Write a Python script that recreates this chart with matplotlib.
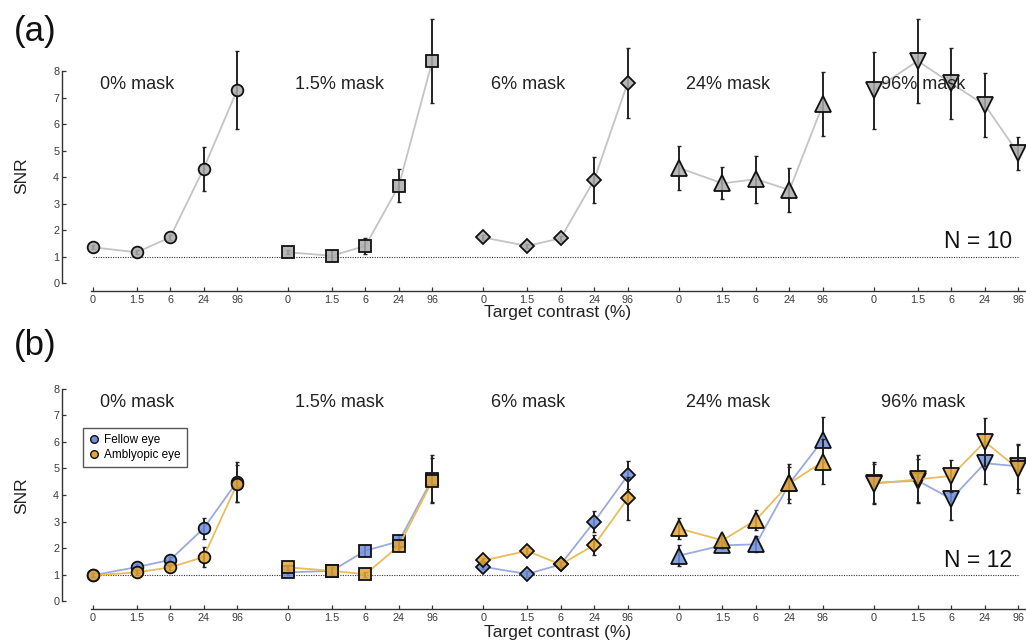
import numpy as np
import matplotlib
matplotlib.use("Agg")
import matplotlib.pyplot as plt
from matplotlib.lines import Line2D
from matplotlib.colors import to_rgba

plt.rcParams['font.family'] = ['Liberation Sans', 'DejaVu Sans']

# ---- data ----
contrasts = ['0', '1.5', '6', '24', '96']
masks = ['0% mask', '1.5% mask', '6% mask', '24% mask', '96% mask']
markers = ['o', 's', 'D', '^', 'v']
msizes = [8.4, 8.0, 7.0, 11.3, 11.3]

# (a) N = 10, one group of observers
snr_a = [[1.35, 1.16, 1.72, 4.31, 7.28],
         [1.16, 1.03, 1.40, 3.67, 8.39],
         [1.72, 1.40, 1.69, 3.89, 7.56],
         [4.35, 3.76, 3.92, 3.51, 6.75],
         [7.28, 8.38, 7.53, 6.72, 4.89]]
err_a = [[0.08, 0.08, 0.10, 0.82, 1.47],
         [0.08, 0.20, 0.30, 0.62, 1.58],
         [0.08, 0.08, 0.10, 0.88, 1.32],
         [0.83, 0.60, 0.89, 0.84, 1.20],
         [1.45, 1.57, 1.33, 1.20, 0.63]]

# (b) N = 12, fellow vs amblyopic eye
snr_fellow = [[0.97, 1.28, 1.55, 2.74, 4.50],
              [1.08, 1.14, 1.90, 2.25, 4.62],
              [1.29, 1.02, 1.38, 2.99, 4.74],
              [1.71, 2.10, 2.14, 4.44, 6.08],
              [4.46, 4.54, 3.85, 5.20, 5.08]]
err_fellow = [[0.08, 0.10, 0.12, 0.40, 0.75],
              [0.10, 0.12, 0.20, 0.25, 0.90],
              [0.10, 0.10, 0.10, 0.40, 0.53],
              [0.40, 0.15, 0.30, 0.60, 0.85],
              [0.77, 0.80, 0.80, 0.80, 0.85]]
snr_amb = [[0.97, 1.08, 1.27, 1.66, 4.42],
           [1.27, 1.14, 1.01, 2.08, 4.54],
           [1.53, 1.89, 1.38, 2.11, 3.87],
           [2.74, 2.29, 3.06, 4.44, 5.26],
           [4.42, 4.59, 4.72, 6.01, 4.98]]
err_amb = [[0.08, 0.10, 0.10, 0.36, 0.70],
           [0.10, 0.15, 0.10, 0.20, 0.85],
           [0.10, 0.10, 0.10, 0.37, 0.80],
           [0.40, 0.20, 0.37, 0.73, 0.85],
           [0.75, 0.90, 0.60, 0.90, 0.90]]

# x layout: log-spaced contrasts, five groups side by side
inner = np.array([0, 1.31, 2.31, 3.31, 4.31])
group_step = 5.83

gray_fill = '#ababab'
gray_line = '#c4c4c4'
blue = '#7090dc'
blue_line = '#9aaade'
orange = '#e3a63a'
orange_line = '#e9bd5a'

W, H = 1026, 643
fig = plt.figure(figsize=(W / 100, H / 100), dpi=100)


def px_axes(left, right, top, bottom):
    return fig.add_axes([left / W, 1 - bottom / H, (right - left) / W, (bottom - top) / H])


def style_axes(ax, ylim):
    ax.set_xlim(-0.916, 28.2)
    ax.set_ylim(*ylim)
    ax.patch.set_alpha(0)
    ax.spines['top'].set_visible(False)
    ax.spines['right'].set_visible(False)
    ax.spines['left'].set_bounds(0, 8)
    ax.spines['bottom'].set_bounds(-0.05, 28.2)
    for s in ['left', 'bottom']:
        ax.spines[s].set_linewidth(1.0)
        ax.spines[s].set_color('#333333')
    ax.set_yticks(range(9))
    xt = np.concatenate([inner + g * group_step for g in range(5)])
    ax.set_xticks(xt)
    ax.set_xticklabels(contrasts * 5)
    ax.tick_params(direction='in', length=3, width=0.9, color='#333333',
                   labelsize=7.8, labelcolor='#3a3a3a', pad=3)
    ax.tick_params(axis='y', pad=2)
    ax.plot([0, 4 * group_step + inner[-1]], [1, 1], color='#333333', lw=0.8,
            ls=(0, (1, 1.2)), zorder=1)


def draw_series(ax, g, vals, errs, fill, line, z=0):
    x = inner + g * group_step
    ax.plot(x, vals, color=line, lw=1.3, zorder=2 + z)
    ax.errorbar(x, vals, yerr=errs, fmt='none', ecolor='#222222', elinewidth=1.4,
                capsize=1.5, capthick=1.0, zorder=2.5 + z)
    ax.plot(x, vals, ls='none', marker=markers[g], ms=msizes[g], mfc=to_rgba(fill, 0.85),
            mec='#111111', mew=1.3, zorder=3 + z)


# ---- panel (a) ----
ax_a = px_axes(62, 1037.4, 12.7, 291)
style_axes(ax_a, (-0.3, 10.2))
for g in range(5):
    draw_series(ax_a, g, snr_a[g], err_a[g], gray_fill, gray_line)
    ax_a.text(g * group_step + 0.22, 7.31, masks[g], fontsize=13, va='baseline',
              ha='left', color='#222222', zorder=6)
ax_a.text(27.44, 1.32, 'N = 10', fontsize=16.5, ha='right', va='baseline', color='#111111')

# ---- panel (b) ----
ax_b = px_axes(62, 1037.4, 381, 609)
style_axes(ax_b, (-0.3, 8.3))
for g in range(5):
    draw_series(ax_b, g, snr_fellow[g], err_fellow[g], blue, blue_line)
    draw_series(ax_b, g, snr_amb[g], err_amb[g], orange, orange_line, z=1)
    ax_b.text(g * group_step + 0.22, 7.31, masks[g], fontsize=13, va='baseline',
              ha='left', color='#222222', zorder=6)
ax_b.text(27.44, 1.29, 'N = 12', fontsize=16.5, ha='right', va='baseline', color='#111111')

handles = [Line2D([], [], ls='none', marker='o', ms=5.5, mfc=blue, mec='#111111', mew=1.0),
           Line2D([], [], ls='none', marker='o', ms=5.5, mfc=orange, mec='#111111', mew=1.0)]
leg = fig.legend(handles, ['Fellow eye', 'Amblyopic eye'], loc='upper left',
                 bbox_to_anchor=(83 / W, 1 - 428 / H), fontsize=8.5, frameon=True,
                 fancybox=False, edgecolor='#555555', framealpha=1, borderaxespad=0,
                 handlelength=0.8, handletextpad=0.5, borderpad=0.5, labelspacing=0.3)
leg.get_frame().set_linewidth(1.0)

# ---- figure text ----
for yc in (313, 633):
    fig.text(558 / W, 1 - yc / H, 'Target contrast (%)', fontsize=12.5, ha='center',
             va='center', color='#222222')
for yc in (176, 496):
    fig.text(22 / W, 1 - yc / H, 'SNR', fontsize=12.5, rotation=90, ha='center',
             va='center', color='#222222')
fig.text(35 / W, 1 - 31 / H, '(a)', fontsize=25, ha='center', va='center', color='#111111')
fig.text(35 / W, 1 - 345 / H, '(b)', fontsize=25, ha='center', va='center', color='#111111')

fig.savefig('out.png', dpi=100)
